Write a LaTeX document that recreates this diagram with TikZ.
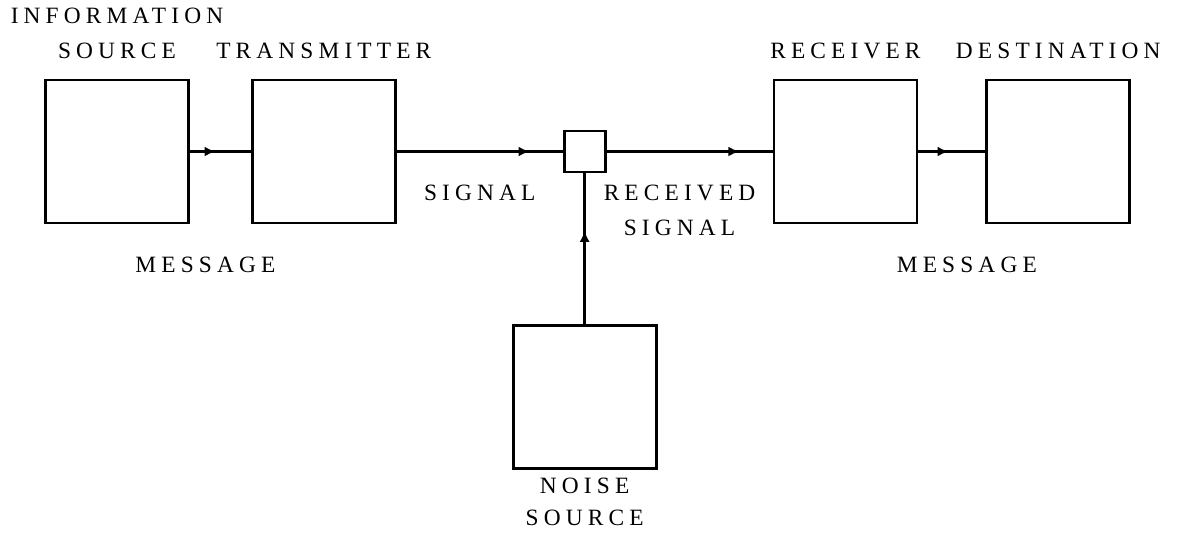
\documentclass[tikz,border=0pt]{standalone}
\usepackage{fontspec}
\newfontfamily\lblfont{Liberation Serif}[LetterSpace=22]
\usepackage{tikz}
\usetikzlibrary{arrows.meta, positioning, decorations.markings}

\begin{document}
\begin{tikzpicture}[
  node distance=1.22cm,
  unit/.style={draw, line width=1.6pt, minimum size=2.86cm, inner sep=0pt},
  lbl/.style={font=\lblfont\fontsize{13.3}{20}\selectfont, align=center, inner sep=1pt},
  link/.style={line width=1.6pt},
  flow/.style={postaction={decorate}, decoration={markings,
    mark=at position #1 with {\arrow{Latex[length=2.2mm, width=2mm]}}}}
]
\useasboundingbox (0,0) rectangle (23.84,-10.7);

% boxes
\node[unit] (src) at (2.34,-3.03) {};
\node[unit, right=of src] (tx) {};
\node[unit, minimum size=0.82cm, right=3.32cm of tx] (mix) {};
\node[unit, right=3.32cm of mix] (rx) {};
\node[unit, right=1.34cm of rx] (dst) {};
\node[unit, below=3.02cm of mix] (noise) {};

% labels
\node[lbl, above=0.35cm of src] (src-lbl) {INFORMATION\\SOURCE};
\node[lbl, above=0.35cm of tx] (tx-lbl) {TRANSMITTER};
\node[lbl, above=0.35cm of rx] (rx-lbl) {RECEIVER};
\node[lbl, above=0.35cm of dst] (dst-lbl) {DESTINATION};
\node[lbl, font=\lblfont\fontsize{13.3}{18}\selectfont, below=0.12cm of noise] (noise-lbl) {NOISE\\SOURCE};

% connectors
\draw[link, flow=0.42] (src) -- node[lbl, below=2.05cm, xshift=-0.3cm] (msg1) {MESSAGE} (tx);
\draw[link, flow=0.8] (tx) -- node[lbl, below=0.6cm] (sig) {SIGNAL} (mix);
\draw[link, flow=0.8] (mix) -- node[lbl, below=0.6cm, xshift=-0.2cm] (rsig) {RECEIVED\\SIGNAL} (rx);
\draw[link, flow=0.45] (rx) -- node[lbl, below=2.05cm, xshift=0.3cm] (msg2) {MESSAGE} (dst);
\draw[link, flow=0.62] (noise) -- (mix);
\end{tikzpicture}
\end{document}
